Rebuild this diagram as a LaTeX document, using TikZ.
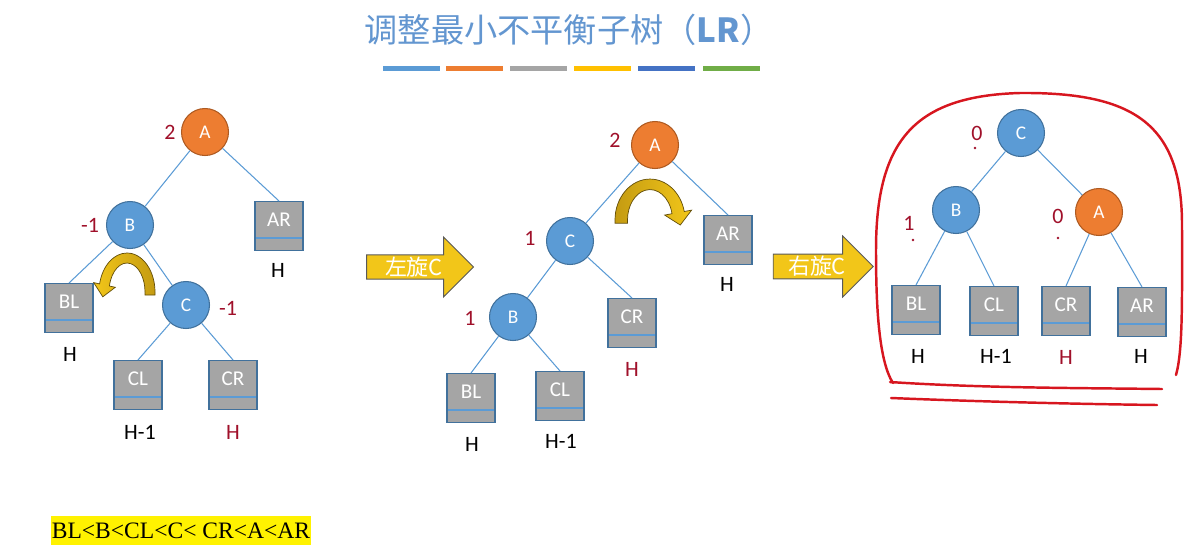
\documentclass[tikz,border=0pt]{standalone}
\usepackage{fontspec}
\setmainfont{Carlito}
\newfontfamily\cjk{Noto Sans CJK SC}
\newfontfamily\serifrm{Liberation Serif}
\usetikzlibrary{shapes.arrows}
\definecolor{nodeblue}{HTML}{5B9BD5}
\definecolor{nodeline}{HTML}{41719C}
\definecolor{rootorange}{HTML}{ED7D31}
\definecolor{rootline}{HTML}{AE5A21}
\definecolor{treegray}{HTML}{A5A5A5}
\definecolor{factorred}{HTML}{A0102A}
\definecolor{turnyellow}{HTML}{F2C619}
\definecolor{turndark}{HTML}{C49B12}
\definecolor{titleblue}{HTML}{6396D0}
\definecolor{penred}{HTML}{D7161F}
\definecolor{bargray}{HTML}{A5A5A5}
\definecolor{bargold}{HTML}{FFC000}
\definecolor{bardeep}{HTML}{4472C4}
\definecolor{bargreen}{HTML}{70AD47}
\begin{document}
\begin{tikzpicture}[x=0.02cm,y=-0.02cm,
    vertex/.style={circle,fill=nodeblue,draw=nodeline,line width=0.6pt,minimum size=0.94cm,inner sep=0pt,text=white,font=\fontsize{11}{13}\selectfont},
    heavy/.style={vertex,fill=rootorange,draw=rootline},
    subtree/.style={rectangle,fill=treegray,draw=nodeline,line width=0.6pt,minimum width=0.96cm,minimum height=0.98cm,inner sep=0pt,text=white,text height=0.27cm,text depth=0.24cm,font=\fontsize{12}{13}\selectfont,
      path picture={\draw[nodeblue,line width=0.6pt] ([yshift=0.25cm]path picture bounding box.south west) -- ([yshift=0.25cm]path picture bounding box.south east);}},
    hlabel/.style={font=\fontsize{12.5}{14}\selectfont},
    factor/.style={text=factorred,font=\fontsize{12.5}{14}\selectfont},
    link/.style={draw=nodeblue,line width=0.6pt},
    rotbox/.style={single arrow,fill=turnyellow,draw=gray!70!black,line width=0.5pt,single arrow head extend=0.31cm,single arrow head indent=0pt,inner sep=0pt,text=white,font=\cjk\fontsize{12.5}{14}\selectfont},
    swing/.style={draw=turndark!50!black,line width=0.4pt,left color=turnyellow,right color=turndark},
    redpen/.style={draw=penred,line width=1.4pt,line cap=round,line join=round}]
\useasboundingbox (0,0) rectangle (1196,558);

% title
\node[text=titleblue,font=\cjk\fontsize{18.9}{22}\selectfont] at (569,30) (title) {调整最小不平衡子树（\textbf{LR}）};
\foreach \x/\c in {383/nodeblue,446/rootorange,510/bargray,574/bargold,638/bardeep,703/bargreen}
  \fill[\c] (\x,66) rectangle ++(57,5);

% tree before
\node[heavy] at (205,132) (a1) {A};
\node[factor] at (170,132) (fa1) {2};
\node[vertex] at (130,225) (b1) {B};
\node[factor] at (90,225) (fb1) {-1};
\node[subtree] at (279,226) (ar1) {AR};
\node[hlabel] at (278,270) (har1) {H};
\node[subtree] at (69,308) (bl1) {BL};
\node[hlabel] at (70,354) (hbl1) {H};
\node[vertex] at (186,305) (c1) {C};
\node[factor] at (228,308) (fc1) {-1};
\node[subtree] at (138,385) (cl1) {CL};
\node[hlabel] at (140,432) (hcl1) {H-1};
\node[subtree] at (233,385) (cr1) {CR};
\node[hlabel,text=factorred] at (233,432) (hcr1) {H};
\path[link] (a1) edge (b1);
\path[link] (a1) edge (ar1.north);
\path[link] (b1) edge (bl1.north);
\path[link] (b1) edge (c1);
\path[link] (c1) edge (cl1.north);
\path[link] (c1) edge (cr1.north);
\begin{scope}[shift={(127,292)}]
  \path[swing] (28,3) -- (28,0) arc[start angle=0,end angle=-168,x radius=28,y radius=39] -- (-33.3,-9.4) -- (-24.2,4.8) -- (-11.7,-4.7) -- (-17.6,-6.0) arc[start angle=-168,end angle=0,x radius=18,y radius=29] -- (18,3) -- cycle;
\end{scope}

\node[rotbox,minimum height=2.14cm,minimum width=1.2cm] at (414,267) (rot1) {左旋C};

% tree after left turn
\node[heavy] at (655,145) (a2) {A};
\node[factor] at (615,140) (fa2) {2};
\node[vertex] at (570,241) (c2) {C};
\node[factor] at (530,238) (fc2) {1};
\node[subtree] at (728,240) (ar2) {AR};
\node[hlabel] at (727,284) (har2) {H};
\node[vertex] at (513,317) (b2) {B};
\node[factor] at (470,318) (fb2) {1};
\node[subtree] at (632,323) (cr2) {CR};
\node[hlabel,text=factorred] at (632,369) (hcr2) {H};
\node[subtree] at (471,398) (bl2) {BL};
\node[hlabel] at (472,444) (hbl2) {H};
\node[subtree] at (560,396) (cl2) {CL};
\node[hlabel] at (561,441) (hcl2) {H-1};
\path[link] (a2) edge (c2);
\path[link] (a2) edge (ar2.north);
\path[link] (c2) edge (b2);
\path[link] (c2) edge (cr2.north);
\path[link] (b2) edge (bl2.north);
\path[link] (b2) edge (cl2.north);
\begin{scope}[shift={(650,220)},xscale=-1.25,yscale=1.05]
  \path[swing,left color=turndark,right color=turnyellow] (28,3) -- (28,0) arc[start angle=0,end angle=-168,x radius=28,y radius=39] -- (-33.3,-9.4) -- (-24.2,4.8) -- (-11.7,-4.7) -- (-17.6,-6.0) arc[start angle=-168,end angle=0,x radius=18,y radius=29] -- (18,3) -- cycle;
\end{scope}

\node[rotbox,minimum height=2.0cm,minimum width=1.22cm] at (817,266.5) (rot2) {右旋C};

% balanced tree
\node[vertex] at (1021,133) (c3) {C};
\node[factor] at (977,133) (fc3) {0};
\node[vertex] at (956,210) (b3) {B};
\node[factor] at (909,223) (fb3) {1};
\node[heavy] at (1099,212) (a3) {A};
\node[factor] at (1058,216) (fa3) {0};
\node[subtree] at (916,310) (bl3) {BL};
\node[hlabel] at (918,356) (hbl3) {H};
\node[subtree] at (994,311) (cl3) {CL};
\node[hlabel] at (996,356) (hcl3) {H-1};
\node[subtree] at (1066,311) (cr3) {CR};
\node[hlabel,text=factorred] at (1066,357) (hcr3) {H};
\node[subtree] at (1142,312) (ar3) {AR};
\node[hlabel] at (1141,356) (har3) {H};
\path[link] (c3) edge (b3);
\path[link] (c3) edge (a3);
\path[link] (b3) edge (bl3.north);
\path[link] (b3) edge (cl3.north);
\path[link] (a3) edge (cr3.north);
\path[link] (a3) edge (ar3.north);
\fill[factorred] (975,148) circle (1.3) (913,240) circle (1.3) (1058,238) circle (1.3);

% hand drawn marks
\draw[redpen] (893,383) .. controls (878,360) and (876,300) .. (876,250) .. controls (876,140) and (915,96) .. (1020,93) .. controls (1135,92) and (1182,125) .. (1182,225) .. controls (1182,300) and (1183,350) .. (1176,375);
\draw[redpen] (890,382) .. controls (980,388) and (1080,388) .. (1162,389);
\draw[redpen] (891,398) .. controls (990,402) and (1080,404) .. (1157,405);

% in-order sequence
\node[fill=yellow,inner sep=0pt,minimum width=5.2cm,minimum height=0.58cm,font=\serifrm\fontsize{13.4}{15}\selectfont] at (181,530.5) (order) {BL<B<CL<C< CR<A<AR};
\end{tikzpicture}
\end{document}
